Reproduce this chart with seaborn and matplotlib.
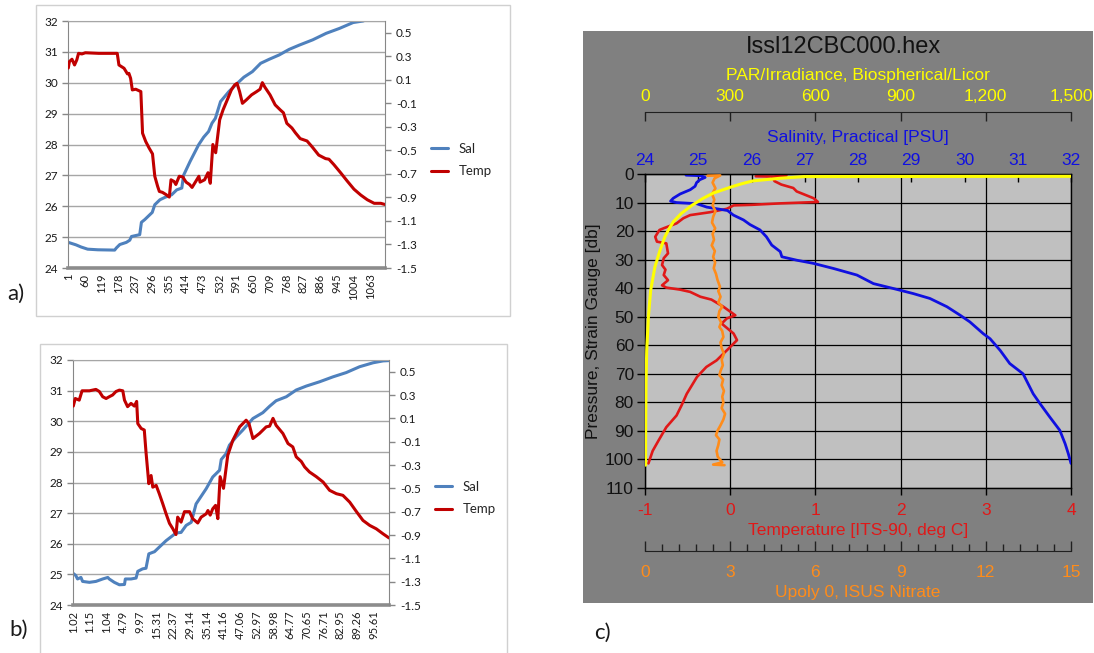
import matplotlib
matplotlib.use("Agg")
import matplotlib.pyplot as plt
from matplotlib.patches import Rectangle
from matplotlib.ticker import MultipleLocator
import seaborn as sns

# ---------------- panel a: Excel chart, x = scan number ----------------
a_sal_idx = [1, 28, 46, 69, 105, 164, 170, 182, 205, 217, 223, 252, 258, 270, 288,
             296, 305, 323, 341, 364, 382, 400, 406, 429, 459, 477, 494, 506, 518, 536,
             565, 589, 618, 648, 677, 707, 742, 777, 813, 860, 907, 954, 1002, 1037, 1114]
a_sal = [24.83, 24.75, 24.68, 24.61, 24.59, 24.58, 24.65, 24.76, 24.83, 24.90, 25.02, 25.08,
         25.48, 25.57, 25.73, 25.80, 26.05, 26.21, 26.29, 26.37, 26.53, 26.59, 27.00, 27.45,
         27.99, 28.24, 28.42, 28.69, 28.85, 29.39, 29.71, 29.93, 30.18, 30.36, 30.63, 30.76,
         30.90, 31.08, 31.22, 31.39, 31.60, 31.76, 31.95, 32.00, 32.30]
a_temp_idx = [1, 5, 14, 23, 31, 37, 49, 61, 108, 173,
              179, 197, 209, 214, 220, 226, 238, 256, 262, 273,
              285, 297, 305, 315, 321, 332, 344, 356, 362, 373,
              379, 391, 403, 415, 427, 436, 450, 460, 464, 480,
              492, 500, 509, 519, 533, 545, 562, 574, 586, 594,
              603, 613, 627, 645, 663, 675, 683, 692, 710, 728,
              746, 757, 769, 787, 799, 816, 840, 858, 881, 905,
              917, 934, 958, 981, 1005, 1029, 1052, 1076, 1099, 1114]
a_temp = [0.20, 0.255, 0.275, 0.226, 0.27, 0.325, 0.32, 0.33, 0.325, 0.325,
          0.226, 0.198, 0.15, 0.155, 0.113, 0.014, 0.02, 0.0, -0.354, -0.424,
          -0.48, -0.53, -0.72, -0.806, -0.849, -0.857, -0.875, -0.897, -0.75, -0.765,
          -0.79, -0.72, -0.725, -0.77, -0.79, -0.815, -0.76, -0.72, -0.77, -0.75,
          -0.69, -0.78, -0.45, -0.52, -0.24, -0.155, -0.057, 0.014, 0.057, 0.07,
          0.0, -0.1, -0.07, -0.028, 0.0, 0.02, 0.076, 0.037, -0.028, -0.113,
          -0.156, -0.18, -0.27, -0.31, -0.35, -0.4, -0.42, -0.47, -0.54, -0.57,
          -0.575, -0.62, -0.69, -0.76, -0.83, -0.88, -0.92, -0.95, -0.95, -0.96]

# ---------------- panel b: same cast, x labelled with pressure ----------------
b_sal_idx = [1, 10, 16, 28, 34, 58, 81, 105, 123, 128, 146, 164, 182, 185, 205, 223, 229,
             246, 258, 268, 282, 288, 305, 329, 364, 382, 400, 418, 435, 471, 494, 518, 524,
             541, 553, 577, 600, 618, 636, 671, 695, 718, 754, 789, 825, 872, 919, 966, 1013,
             1061, 1096, 1117]
b_sal = [25.03, 24.96, 24.85, 24.90, 24.77, 24.74, 24.77, 24.85, 24.90, 24.85, 24.74, 24.66,
         24.67, 24.85, 24.85, 24.88, 25.10, 25.18, 25.20, 25.67, 25.72, 25.74, 25.89, 26.10,
         26.35, 26.37, 26.60, 26.70, 27.30, 27.80, 28.18, 28.40, 28.75, 28.94, 29.22, 29.49,
         29.71, 29.90, 30.09, 30.28, 30.49, 30.67, 30.80, 31.02, 31.15, 31.29, 31.45, 31.59,
         31.78, 31.91, 31.97, 31.98]
b_temp_idx = [1, 8, 22, 32, 58, 81, 93, 105, 117, 128,
              140, 152, 164, 176, 182, 193, 205, 217, 225, 229,
              241, 252, 258, 268, 276, 282, 294, 305, 317, 329,
              341, 353, 364, 370, 382, 394, 412, 423, 441, 453,
              471, 477, 485, 494, 504, 512, 520, 532, 547, 565,
              589, 612, 622, 636, 659, 683, 695, 707, 718, 742,
              760, 777, 789, 807, 819, 836, 860, 884, 907, 931,
              954, 978, 1002, 1025, 1049, 1072, 1096, 1117]
b_temp = [0.205, 0.27, 0.256, 0.336, 0.336, 0.348, 0.33, 0.285, 0.27, 0.285,
          0.30, 0.33, 0.342, 0.336, 0.256, 0.20, 0.228, 0.205, 0.245, 0.055,
          0.013, 0.0, -0.188, -0.46, -0.39, -0.49, -0.475, -0.546, -0.63, -0.718,
          -0.80, -0.847, -0.896, -0.747, -0.79, -0.70, -0.70, -0.76, -0.797, -0.747,
          -0.718, -0.69, -0.73, -0.675, -0.646, -0.76, -0.40, -0.50, -0.217, -0.088,
          0.027, 0.084, 0.055, -0.073, -0.03, 0.027, 0.033, 0.10, 0.04, -0.03,
          -0.116, -0.145, -0.23, -0.27, -0.317, -0.36, -0.40, -0.446, -0.517, -0.546,
          -0.56, -0.618, -0.70, -0.775, -0.818, -0.847, -0.89, -0.925]

scan_ticks = [1, 60, 119, 178, 237, 296, 355, 414, 473, 532, 591, 650, 709, 768, 827,
              886, 945, 1004, 1063]
a_tick_labels = ["1", "60", "119", "178", "237", "296", "355", "414", "473", "532", "591",
                 "650", "709", "768", "827", "886", "945", "1004", "1063"]
b_tick_labels = ["1.02", "1.15", "1.04", "4.79", "9.97", "15.31", "22.37", "29.14", "35.14",
                 "41.16", "47.06", "52.97", "58.98", "64.77", "70.65", "76.71", "82.95",
                 "89.26", "95.61"]
temp_ticks = [-1.5, -1.3, -1.1, -0.9, -0.7, -0.5, -0.3, -0.1, 0.1, 0.3, 0.5]
temp_tick_labels = ["-1.5", "-1.3", "-1.1", "-0.9", "-0.7", "-0.5", "-0.3", "-0.1",
                    "0.1", "0.3", "0.5"]

# ---------------- panel c: CTD profile vs pressure ----------------
c_sal_p = [0.4, 0.6, 1.2, 2.0, 3.0, 4.3, 5.5, 7.0, 8.5, 9.5, 10.0, 10.4, 11.6, 12.8, 14.4,
           16.1, 17.7, 19.6, 22.0, 24.9, 27.2, 29.0, 30.2, 31.3, 33.1, 35.4, 38.4, 40.1, 41.9,
           43.6, 46.5, 49.5, 51.8, 55.9, 57.7, 61.8, 66.4, 70.0, 77.0, 80.5, 85.1, 89.8, 94.5,
           98.0, 101.4]
c_sal = [24.77, 25.05, 25.13, 25.03, 24.97, 24.94, 24.85, 24.66, 24.53, 24.48, 24.59, 24.97,
         25.16, 25.55, 25.66, 25.85, 25.97, 26.16, 26.28, 26.38, 26.54, 26.57, 26.85, 27.16,
         27.54, 27.98, 28.29, 28.66, 29.04, 29.35, 29.67, 29.92, 30.10, 30.35, 30.48, 30.67,
         30.85, 31.10, 31.29, 31.42, 31.60, 31.79, 31.89, 31.95, 32.00]
c_temp_p = [0.8, 0.9, 0.6, 1.2, 2.5, 3.7, 4.9, 6.1, 7.3, 8.5, 9.8, 10.3, 10.8, 11.0, 12.2,
            13.4, 14.4, 15.5, 17.3, 19.0, 19.6, 22.0, 23.7, 24.3, 27.8, 29.5, 31.9, 33.5, 35.4,
            37.2, 39.0, 39.8, 40.5, 41.3, 43.0, 44.0, 46.5, 49.5, 50.6, 52.4, 55.9, 58.2, 61.2,
            65.3, 67.6, 71.1, 77.0, 81.0, 84.6, 88.7, 93.3, 97.0, 101.4]
c_temp = [0.30, 0.55, 0.66, 0.50, 0.52, 0.60, 0.74, 0.78, 0.88, 0.98, 1.03, 0.58, 0.25, 0.04,
          -0.04, -0.24, -0.47, -0.55, -0.63, -0.78, -0.83, -0.88, -0.86, -0.75, -0.73, -0.78,
          -0.80, -0.76, -0.78, -0.73, -0.80, -0.75, -0.59, -0.47, -0.35, -0.22, -0.08, 0.06,
          -0.04, -0.10, 0.04, 0.08, -0.02, -0.16, -0.28, -0.39, -0.51, -0.57, -0.63, -0.75,
          -0.84, -0.91, -0.96]
c_nit_p = [0.6, 0.5, 1.5, 3.0, 5.0, 7.0, 9.0, 11.0, 13.0, 15.0, 17.0, 19.0, 21.0, 23.0, 25.0,
           27.0, 29.0, 31.0, 33.0, 35.0, 37.0, 39.5, 41.0, 43.0, 45.0, 46.5, 48.0, 50.0, 52.0,
           53.6, 55.0, 57.1, 59.0, 61.0, 63.0, 65.0, 67.0, 69.0, 70.5, 72.0, 74.0, 76.0, 78.0,
           80.0, 82.0, 84.0, 86.0, 88.0, 90.0, 91.5, 93.0, 95.0, 97.0, 99.0, 101.0, 101.8, 102.0]
c_nit = [2.20, 2.65, 2.45, 2.38, 2.48, 2.36, 2.44, 2.38, 2.48, 2.40, 2.36, 2.47, 2.38, 2.43,
         2.35, 2.46, 2.40, 2.47, 2.42, 2.50, 2.55, 2.64, 2.58, 2.66, 2.58, 2.72, 2.62, 2.58,
         2.68, 2.62, 2.72, 2.76, 2.66, 2.70, 2.78, 2.70, 2.74, 2.66, 2.62, 2.75, 2.70, 2.78,
         2.72, 2.76, 2.70, 2.82, 2.76, 2.66, 2.55, 2.50, 2.62, 2.58, 2.52, 2.56, 2.72, 2.40,
         2.80]
c_par_p = [0.8, 0.9, 1.5, 2.4, 3.3, 4.3, 5.5, 6.7, 8.5, 11.0, 13.8, 16.7, 19.5, 22.0, 26.7,
           32.5, 40.7, 50.0, 61.8, 73.5, 91.0, 102.0]
c_par = [1600, 560, 475, 381, 345, 311, 275, 240, 205, 165, 128, 100, 83, 70, 53, 35, 20,
         12, 6, 3.5, 2.3, 2]

# ---------------- figure ----------------
sns.set_style("white")
plt.rcParams["font.family"] = "Lato"
plt.rcParams["axes.unicode_minus"] = False

W, H = 1094, 653
fig = plt.figure(figsize=(W / 100, H / 100), dpi=100)


def box(x0, y0, x1, y1):
    return [x0 / W, 1 - y1 / H, (x1 - x0) / W, (y1 - y0) / H]


def frame(x0, y0, x1, y1, **kw):
    fig.add_artist(Rectangle((x0 / W, 1 - y1 / H), (x1 - x0) / W, (y1 - y0) / H,
                             transform=fig.transFigure, zorder=-1, **kw))


SAL_C = "#4F81BD"
TEMP_C = "#C00000"
GRID_C = "#a6a6a6"
AXIS_C = "#878787"
TXT = "#1a1a1a"

frame(36, 5, 510, 316, fc="white", ec="#d0d0d0", lw=1)
frame(40, 344, 507, 700, fc="white", ec="#d0d0d0", lw=1)
frame(583, 31, 1093, 603, fc="#808080", ec="none")


def excel_panel(rect, sal_x, sal_y, temp_x, temp_y, xlabels, leg_xy, tag, tag_xy):
    ax = fig.add_axes(box(*rect))
    sns.lineplot(x=sal_x, y=sal_y, ax=ax, color=SAL_C, lw=2.2, estimator=None, sort=False)
    ax.set_xlim(0, max(sal_x[-1], temp_x[-1]))
    ax.set_ylim(24, 32)
    ax.set_yticks(range(24, 33))
    ax.set_xticks(scan_ticks)
    ax.set_xticklabels(xlabels, rotation=90)
    ax.tick_params(axis="x", bottom=True, length=0, pad=4, labelsize=8, labelcolor=TXT)
    ax.tick_params(axis="y", left=True, length=4, width=1, color=AXIS_C, labelsize=8.5,
                   pad=3, labelcolor=TXT)
    ax.grid(axis="y", color=GRID_C, lw=1)
    ax.set_axisbelow(True)
    ax.set_xlabel("")
    ax.set_ylabel("")
    ax.spines["left"].set_color(AXIS_C)
    ax.spines["top"].set_color(GRID_C)
    ax.spines["right"].set_visible(False)
    ax.spines["bottom"].set_color("#8c8c8c")
    ax.spines["bottom"].set_linewidth(2.6)

    ax2 = ax.twinx()
    sns.lineplot(x=temp_x, y=temp_y, ax=ax2, color=TEMP_C, lw=2.2, estimator=None, sort=False)
    ax2.set_ylim(-1.5, 0.6)
    ax2.set_yticks(temp_ticks)
    ax2.set_yticklabels(temp_tick_labels)
    ax2.tick_params(axis="y", right=True, length=4, width=1, color=AXIS_C, labelsize=8.5,
                    pad=4, labelcolor=TXT)
    ax2.set_ylabel("")
    for s in ("left", "top", "bottom"):
        ax2.spines[s].set_visible(False)
    ax2.spines["right"].set_color(AXIS_C)

    ax2.legend([ax.lines[0], ax2.lines[0]], ["Sal", "Temp"], loc="center left",
               bbox_to_anchor=(leg_xy[0] / W, 1 - leg_xy[1] / H), bbox_transform=fig.transFigure,
               frameon=False, fontsize=9.5, handlelength=1.3, handletextpad=0.8,
               labelspacing=0.8, borderpad=0, borderaxespad=0)
    fig.text(tag_xy[0] / W, 1 - tag_xy[1] / H, tag, fontsize=16, va="center", color=TXT)


excel_panel((68, 21, 385, 268), a_sal_idx, a_sal, a_temp_idx, a_temp, a_tick_labels,
            (431, 160), "a)", (7, 294))
excel_panel((73, 360, 389, 605), b_sal_idx, b_sal, b_temp_idx, b_temp, b_tick_labels,
            (435, 498), "b)", (9, 630))

# ---------------- panel c ----------------
ARIAL = "Liberation Sans"
FS = 12.5
C_BLUE, C_RED, C_ORANGE, C_YELLOW = "#1010e0", "#e01818", "#ff8c1a", "#ffff00"

axc = fig.add_axes(box(645, 174, 1071, 488))
axc.set_facecolor("#c0c0c0")
sns.lineplot(x=c_temp, y=c_temp_p, orient="y", sort=False, estimator=None, ax=axc,
             color=C_RED, lw=1.9)
axc.set_xlim(-1, 4)
axc.set_xticks(range(-1, 5))
axc.set_yticks(range(0, 111, 10))
axc.grid(True, color="black", lw=0.9)
for s in axc.spines.values():
    s.set_color("black")
    s.set_linewidth(1)
axc.tick_params(axis="x", bottom=True, direction="out", length=5, width=1, color="black",
                labelsize=FS, labelcolor=C_RED, pad=5.5, labelfontfamily=ARIAL)
axc.tick_params(axis="y", left=True, direction="out", length=6, width=1, color="black",
                labelsize=FS, labelcolor="#111111", pad=2, labelfontfamily=ARIAL)
axc.set_xlabel("Temperature [ITS-90, deg C]", color=C_RED, fontsize=FS, family=ARIAL)
axc.xaxis.set_label_coords(0.5, -0.134)
axc.xaxis.label.set_va("center")
axc.set_ylabel("Pressure, Strain Gauge [db]", color="#111111", fontsize=FS, family=ARIAL)
axc.yaxis.set_label_coords(-0.12, 0.5)
axc.yaxis.label.set_va("center")

# salinity on the top spine
ax_sal = axc.twiny()
sns.lineplot(x=c_sal, y=c_sal_p, orient="y", sort=False, estimator=None, ax=ax_sal,
             color=C_BLUE, lw=2.0)
ax_sal.set_xlim(24, 32)
ax_sal.set_xticks(range(24, 33))
for s in ("left", "right", "bottom"):
    ax_sal.spines[s].set_visible(False)
ax_sal.spines["top"].set_color("black")
ax_sal.tick_params(axis="x", top=True, bottom=False, direction="in", length=6, width=1,
                   color="black", labelsize=FS, labelcolor=C_BLUE, pad=4.5,
                   labelfontfamily=ARIAL)
ax_sal.set_xlabel("Salinity, Practical [PSU]", color=C_BLUE, fontsize=FS, family=ARIAL)
ax_sal.xaxis.set_label_coords(0.5, 1.115)
ax_sal.xaxis.label.set_va("center")

# nitrate on an offset bottom axis
ax_nit = axc.twiny()
sns.lineplot(x=c_nit, y=c_nit_p, orient="y", sort=False, estimator=None, ax=ax_nit,
             color=C_ORANGE, lw=1.9)
ax_nit.set_xlim(0, 15)
ax_nit.set_xticks(range(0, 16, 3))
ax_nit.xaxis.set_minor_locator(MultipleLocator(0.6))
ax_nit.xaxis.set_ticks_position("bottom")
ax_nit.xaxis.set_label_position("bottom")
for s in ("left", "right", "top"):
    ax_nit.spines[s].set_visible(False)
ax_nit.spines["bottom"].set_visible(True)
ax_nit.spines["bottom"].set_color("#202020")
ax_nit.spines["bottom"].set_position(("outward", 45.4))
ax_nit.tick_params(axis="x", which="major", direction="in", length=7, width=1,
                   color="#202020", labelsize=FS, labelcolor=C_ORANGE, pad=10,
                   labelfontfamily=ARIAL)
ax_nit.tick_params(axis="x", which="minor", direction="in", length=5, width=1,
                   color="#202020")
ax_nit.set_xlabel("Upoly 0, ISUS Nitrate", color=C_ORANGE, fontsize=FS, family=ARIAL)
ax_nit.xaxis.set_label_coords(0.5, -0.334)
ax_nit.xaxis.label.set_va("center")

# PAR on an offset top axis
ax_par = axc.twiny()
sns.lineplot(x=c_par, y=c_par_p, orient="y", sort=False, estimator=None, ax=ax_par,
             color=C_YELLOW, lw=2.2)
ax_par.set_xlim(0, 1500)
ax_par.set_xticks(range(0, 1501, 300))
ax_par.set_xticklabels(["0", "300", "600", "900", "1,200", "1,500"])
for s in ("left", "right", "bottom"):
    ax_par.spines[s].set_visible(False)
ax_par.spines["top"].set_color("#202020")
ax_par.spines["top"].set_position(("outward", 44.6))
ax_par.tick_params(axis="x", top=True, bottom=False, direction="in", length=6.5, width=1,
                   color="#202020", labelsize=FS, labelcolor=C_YELLOW, pad=6,
                   labelfontfamily=ARIAL)
ax_par.set_xlabel("PAR/Irradiance, Biospherical/Licor", color=C_YELLOW, fontsize=FS,
                  family=ARIAL)
ax_par.xaxis.set_label_coords(0.5, 1.315)
ax_par.xaxis.label.set_va("center")

for a in (ax_sal, ax_nit, ax_par):
    a.set_ylabel("")
    a.grid(False)
axc.set_ylim(110, 0)

fig.text(843 / W, 1 - 47 / H, "Issl12CBC000.hex", fontsize=17, family=ARIAL,
         color="#111111", ha="center", va="center")
fig.text(594 / W, 1 - 633 / H, "c)", fontsize=16, va="center", color=TXT)

plt.savefig("out.png", dpi=100)
